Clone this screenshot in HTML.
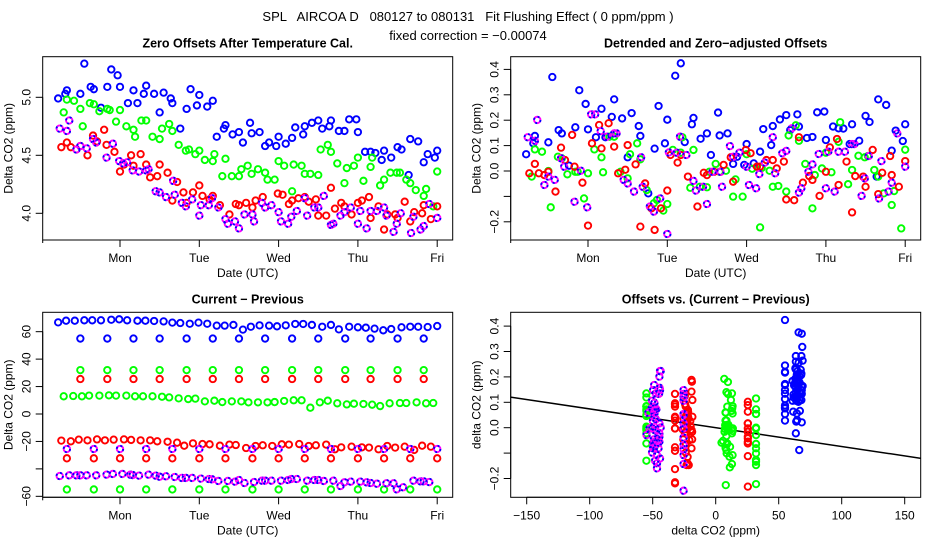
<!DOCTYPE html>
<html><head><meta charset="utf-8">
<style>
html,body{margin:0;padding:0;background:#fff;}
svg{display:block;font-family:"Liberation Sans",sans-serif;}
text{fill:#000;}
</style></head>
<body>
<svg id="chart" width="936" height="540" viewBox="0 0 936 540" xmlns="http://www.w3.org/2000/svg">
<defs>
<clipPath id="clip4"><rect x="510.7" y="312.3" width="410" height="185"/></clipPath>
</defs>
<text x="468" y="21" font-size="13" text-anchor="middle" style="white-space:pre">SPL   AIRCOA D   080127 to 080131   Fit Flushing Effect ( 0 ppm/ppm )</text>
<text x="468" y="40" font-size="13" text-anchor="middle">fixed correction = −0.00074</text>
<g id="layer"></g>
</svg>
<script>
// ---------- DATA ----------
const dayLabels = ["Mon","Tue","Wed","Thu","Fri"];
const dayTicks = [0,1,2,3,4];
const p1YTicks = [4.0,4.5,5.0];
const p1YLabels = ["4.0","4.5","5.0"];
const p2YTicks = [-0.2,-0.1,0.0,0.1,0.2,0.3,0.4];
const p2YLabels = ["-0.2","","0.0","0.1","0.2","0.3","0.4"];
const p3YTicks = [-60,-40,-20,0,20,40,60];
const p3YLabels = ["-60","","-20","0","20","40","60"];
const p4XTicks = [-150,-100,-50,0,50,100,150];
const p4XLabels = ["-150","-100","-50","0","50","100","150"];
const fitSlope = -0.00074;
const fitIntercept = 0.0;

const blueDays = [-0.78,-0.69,-0.67,-0.50,-0.45,-0.37,-0.33,-0.24,-0.16,-0.11,-0.03,0.00,0.10,0.17,0.22,0.30,0.33,0.43,0.50,0.55,0.64,0.66,0.76,0.84,0.89,0.97,1.00,1.10,1.17,1.22,1.31,1.33,1.42,1.50,1.55,1.64,1.66,1.76,1.83,1.88,1.97,2.00,2.09,2.17,2.21,2.31,2.33,2.42,2.50,2.55,2.64,2.66,2.76,2.83,2.89,2.98,3.00,3.09,3.16,3.22,3.30,3.33,3.42,3.50,3.55,3.64,3.66,3.76,3.83,3.88,3.97,4.00];
const blueZero = [4.99,5.03,5.06,5.03,5.29,5.09,5.07,4.91,5.09,5.24,5.19,5.09,4.95,5.06,4.95,5.03,5.10,5.03,4.87,5.04,4.99,4.95,4.73,4.90,5.07,4.93,5.02,4.92,4.97,4.66,4.73,4.76,4.68,4.70,4.61,4.78,4.69,4.70,4.58,4.61,4.58,4.66,4.60,4.65,4.74,4.68,4.75,4.78,4.80,4.73,4.75,4.80,4.71,4.71,4.81,4.81,4.70,4.53,4.53,4.52,4.46,4.54,4.48,4.57,4.55,4.33,4.64,4.62,4.44,4.51,4.48,4.54];
const blueDetr = [0.066,0.109,0.138,0.113,0.370,0.161,0.148,0.021,0.172,0.318,0.264,0.164,0.133,0.245,0.133,0.213,0.282,0.207,0.054,0.228,0.177,0.138,-0.088,0.088,0.256,0.109,0.202,0.375,0.424,0.114,0.184,0.209,0.127,0.148,0.063,0.230,0.140,0.148,0.028,0.056,0.024,0.106,0.030,0.076,0.165,0.102,0.177,0.203,0.220,0.161,0.223,0.175,0.130,0.134,0.231,0.234,0.122,0.175,0.168,0.167,0.106,0.184,0.119,0.217,0.193,-0.022,0.282,0.260,0.080,0.159,0.118,0.184];

const greenDays = [-0.71,-0.67,-0.58,-0.50,-0.47,-0.38,-0.33,-0.26,-0.16,-0.13,-0.05,0.00,0.08,0.17,0.19,0.27,0.33,0.41,0.50,0.53,0.62,0.66,0.74,0.83,0.87,0.95,1.00,1.07,1.17,1.19,1.29,1.33,1.41,1.50,1.53,1.61,1.66,1.74,1.83,1.86,1.95,2.00,2.07,2.17,2.19,2.29,2.33,2.40,2.50,2.53,2.62,2.66,2.74,2.83,2.86,2.95,3.00,3.07,3.16,3.18,3.28,3.33,3.41,3.49,3.53,3.61,3.66,3.73,3.83,3.86,3.95,4.00];
const greenZero = [4.87,4.98,4.97,4.90,4.75,4.95,4.94,4.88,4.90,4.89,4.79,4.89,4.75,4.72,4.66,4.80,4.80,4.66,4.64,4.73,4.77,4.71,4.59,4.54,4.55,4.51,4.54,4.46,4.45,4.51,4.32,4.47,4.32,4.32,4.38,4.41,4.34,4.38,4.35,4.29,4.29,4.45,4.41,4.19,4.42,4.41,4.34,4.34,4.33,4.55,4.59,4.53,4.43,4.26,4.39,4.41,4.48,4.28,4.40,4.48,4.24,4.29,4.35,4.35,4.35,4.29,4.26,4.20,4.15,4.21,4.06,4.36];
const greenDetr = [-0.022,0.085,0.076,0.0,-0.143,0.056,0.050,-0.013,-0.003,-0.003,-0.108,-0.009,0.085,0.054,-0.005,0.135,0.135,-0.003,-0.029,0.066,0.109,0.046,-0.075,-0.127,-0.114,-0.156,-0.130,0.083,0.072,0.133,-0.066,0.083,-0.062,-0.064,-0.003,0.028,-0.003,0.001,-0.101,-0.033,-0.101,0.066,0.009,-0.222,0.012,0.001,-0.062,-0.059,-0.081,0.140,0.180,0.119,0.028,-0.147,-0.016,0.010,0.072,-0.005,0.115,0.192,-0.052,0.004,0.060,0.054,0.059,0.004,-0.022,-0.088,-0.134,-0.079,-0.226,0.084];

const redDays = [-0.74,-0.67,-0.62,-0.55,-0.50,-0.41,-0.34,-0.29,-0.20,-0.17,-0.07,0.00,0.05,0.14,0.17,0.26,0.33,0.38,0.47,0.50,0.60,0.66,0.72,0.80,0.84,0.92,1.00,1.04,1.13,1.17,1.26,1.38,1.46,1.50,1.59,1.67,1.71,1.80,1.83,1.99,2.05,2.13,2.17,2.25,2.33,2.38,2.47,2.50,2.60,2.66,2.71,2.79,2.83,2.92,3.00,3.05,3.14,3.16,3.26,3.33,3.37,3.47,3.50,3.59,3.66,3.71,3.81,3.83,3.92,4.00];
const redZero = [4.57,4.61,4.57,4.55,4.58,4.50,4.67,4.62,4.72,4.59,4.53,4.36,4.42,4.50,4.41,4.51,4.42,4.31,4.32,4.42,4.35,4.11,4.27,4.18,4.09,4.18,4.24,4.15,4.12,4.15,4.07,3.99,4.08,4.07,4.09,4.05,4.11,4.14,4.05,4.17,4.16,4.08,4.11,4.13,4.14,4.10,4.12,3.98,3.98,4.22,4.04,4.09,4.06,3.99,4.09,4.11,4.14,3.96,4.06,3.86,3.99,3.99,3.96,4.10,3.93,4.01,4.00,4.07,3.95,4.06];
const redDetr = [-0.009,0.028,-0.009,-0.016,-0.003,-0.081,0.092,0.043,0.142,0.017,-0.046,-0.215,0.109,0.181,0.089,0.188,0.096,-0.009,0.005,0.102,0.026,-0.219,-0.049,-0.147,-0.232,-0.147,-0.077,0.063,0.033,0.063,-0.022,-0.140,-0.007,-0.016,-0.003,-0.003,0.024,0.054,-0.042,0.083,0.070,0.017,0.017,0.043,0.043,0.010,0.037,-0.112,-0.115,0.133,-0.046,-0.020,-0.035,-0.098,-0.003,0.093,0.126,-0.055,0.037,-0.163,-0.020,-0.022,-0.062,0.083,-0.091,-0.007,0.059,-0.016,-0.062,0.039];

const purpleDays = [-0.76,-0.67,-0.64,-0.55,-0.50,-0.42,-0.34,-0.30,-0.17,-0.09,-0.01,0.04,0.09,0.16,0.24,0.33,0.36,0.45,0.50,0.58,0.67,0.69,0.78,0.83,0.91,1.00,1.02,1.12,1.16,1.24,1.33,1.36,1.45,1.50,1.57,1.67,1.69,1.79,1.83,1.91,2.00,2.03,2.12,2.16,2.23,2.33,2.36,2.45,2.50,2.57,2.66,2.69,2.78,2.83,2.91,3.00,3.03,3.11,3.16,3.24,3.33,3.36,3.45,3.49,3.54,3.67,3.70,3.79,3.83,3.90,4.00];
const purpleZero = [4.73,4.71,4.80,4.55,4.58,4.56,4.64,4.61,4.48,4.60,4.45,4.43,4.44,4.37,4.36,4.37,4.38,4.19,4.18,4.14,4.28,4.16,4.09,4.06,4.12,3.98,4.07,4.07,4.13,4.05,3.95,3.91,3.93,3.87,3.99,3.99,3.93,4.09,4.05,4.07,4.01,3.93,3.91,3.97,4.02,4.13,3.98,4.05,4.05,4.15,3.90,3.91,3.98,4.01,4.05,3.91,4.02,3.87,4.02,4.02,4.05,3.98,3.84,3.91,4.00,3.83,3.97,3.86,3.89,4.08,3.96];
const purpleDetr = [0.133,0.119,0.201,-0.055,-0.022,-0.035,0.050,0.017,-0.121,0.001,-0.143,0.223,0.223,0.157,0.135,0.148,0.148,-0.035,-0.049,-0.081,0.054,-0.062,-0.140,-0.160,-0.108,-0.248,0.073,0.072,0.135,0.063,-0.039,-0.077,-0.062,-0.130,-0.003,-0.003,-0.062,0.098,0.056,0.072,0.017,-0.055,-0.068,-0.012,0.033,0.133,-0.009,0.070,0.079,0.168,-0.085,-0.068,-0.003,0.026,0.067,-0.068,0.076,-0.081,0.076,0.076,0.106,0.106,-0.098,-0.029,0.059,-0.108,0.039,-0.081,-0.046,0.148,0.017];

// Current - Previous rows
const blueMainDays = [-0.78,-0.68,-0.57,-0.45,-0.35,-0.24,-0.11,-0.01,0.09,0.22,0.32,0.43,0.55,0.66,0.76,0.88,0.99,1.10,1.22,1.32,1.43,1.55,1.65,1.76,1.88,1.98,2.09,2.21,2.31,2.42,2.55,2.66,2.76,2.89,3.00,3.10,3.21,3.32,3.42,3.55,3.66,3.76,3.88,4.00];
const blueMainDiff = [66.8,68.0,68.0,68.3,68.3,68.3,68.7,69.0,68.3,68.0,68.0,67.8,67.5,66.6,66.3,65.8,66.6,65.8,64.4,64.4,64.9,61.5,63.6,64.6,64.4,63.9,64.6,65.6,65.6,64.9,63.6,64.9,61.7,63.6,63.2,62.9,62.2,61.0,61.9,63.2,63.6,63.6,63.4,64.1];
const periodADays = [-0.50,-0.16,0.17,0.50,0.84,1.17,1.50,1.83,2.17,2.50,2.84,3.16,3.50,3.83];
const blueHighDiff = [55,55,55,55,55,55,55,55,55,55,55,55,55,55];
const greenHighDiff = [32,32,32,32,32,32,32,32,32,32,32,32,32,32];
const redHighDiff = [25.5,25.5,25.5,25.5,25.5,25.5,25.5,25.5,25.5,25.5,25.5,25.5,25.5,25.5];
const periodBDays = [-0.67,-0.33,0.00,0.33,0.66,1.00,1.33,1.67,2.00,2.33,2.66,3.00,3.33,3.66,4.00];
const greenLowDiff = [-55,-55,-55,-55,-55,-55,-55,-55,-55,-55,-55,-55,-55,-55,-55];
const redLowDiff = [-32.3,-32.3,-32.3,-32.3,-32.3,-32.3,-32.3,-32.3,-32.3,-32.3,-32.3,-32.3,-32.3,-32.3,-32.3];
const purpleMidDiff = [-25.5,-25.5,-25.5,-25.5,-25.5,-25.5,-25.5,-25.5,-25.5,-25.5,-25.5,-25.5,-25.5,-25.5,-25.5];
const greenMainDays = [-0.71,-0.59,-0.48,-0.39,-0.26,-0.14,-0.05,0.08,0.19,0.29,0.41,0.53,0.62,0.74,0.86,0.95,1.07,1.19,1.29,1.41,1.53,1.62,1.74,1.86,1.95,2.07,2.19,2.29,2.40,2.52,2.62,2.74,2.86,2.95,3.07,3.18,3.28,3.40,3.53,3.61,3.74,3.86,3.95];
const greenMainDiff = [12.9,13.1,12.9,13.4,13.4,13.6,13.4,13.4,12.9,12.9,12.9,12.6,12.1,11.4,10.9,11.2,9.2,9.7,8.7,9.2,9.2,8.5,8.5,8.5,8.7,9.5,10.0,10.0,4.6,8.5,9.7,7.8,7.0,7.5,7.3,6.8,5.8,7.8,8.0,8.0,8.5,7.8,8.0];
const redMainDays = [-0.74,-0.62,-0.52,-0.41,-0.29,-0.19,-0.08,0.05,0.14,0.26,0.38,0.47,0.60,0.72,0.81,0.92,1.04,1.13,1.26,1.38,1.46,1.59,1.71,1.80,1.92,2.04,2.13,2.26,2.38,2.47,2.60,2.71,2.79,2.92,3.05,3.14,3.26,3.37,3.47,3.59,3.71,3.81,3.92];
const redMainDiff = [-19.4,-19.9,-18.7,-19.2,-18.5,-19.2,-18.7,-18.5,-18.9,-19.2,-19.2,-19.9,-20.2,-20.9,-23.1,-21.4,-21.9,-22.1,-23.1,-22.3,-22.6,-24.8,-23.3,-22.8,-23.3,-22.1,-22.3,-21.9,-23.3,-22.8,-22.3,-25.7,-24.3,-23.8,-24.3,-24.5,-25.7,-23.3,-24.5,-23.8,-26.2,-23.1,-23.8];
const purpleMainDays = [-0.76,-0.64,-0.55,-0.50,-0.42,-0.30,-0.17,-0.09,0.03,0.13,0.16,0.24,0.36,0.45,0.50,0.58,0.69,0.78,0.83,0.91,1.02,1.12,1.16,1.24,1.36,1.45,1.50,1.57,1.69,1.79,1.83,1.91,2.03,2.12,2.16,2.23,2.36,2.45,2.50,2.57,2.69,2.78,2.83,2.91,3.03,3.11,3.16,3.24,3.36,3.45,3.49,3.57,3.70,3.79,3.83,3.90];
const purpleMainDiff = [-45.2,-44.7,-44.7,-44.7,-44.7,-44.7,-44.2,-43.7,-43.7,-44.2,-44.5,-44.9,-44.2,-44.9,-45.7,-45.4,-45.9,-46.6,-46.6,-46.6,-47.1,-47.4,-47.6,-48.8,-48.8,-49.3,-48.1,-50.3,-49.6,-48.6,-48.6,-48.6,-48.6,-48.1,-47.4,-47.4,-48.6,-48.1,-48.1,-48.8,-48.6,-52.5,-49.8,-49.3,-49.3,-49.8,-50.3,-50.8,-50.5,-50.5,-54.9,-53.4,-48.6,-49.1,-49.1,-49.6];

// ---------- RENDER ----------
const NS = "http://www.w3.org/2000/svg";
const layer = document.getElementById("layer");
function mk(tag, attrs, parent) {
  const e = document.createElementNS(NS, tag);
  for (const k in attrs) e.setAttribute(k, attrs[k]);
  (parent || layer).appendChild(e);
  return e;
}
const COLORS = {blue:"#0000ff", green:"#00ff00", red:"#ff0000", purple:"#ff00ff"};

function point(g, cx, cy, color) {
  if (color === "purple") {
    const c = mk("circle", {cx:cx, cy:cy, r:3.2, fill:"none", stroke:"#ff00ff", "stroke-width":1.9}, g);
    
    
    const d = mk("circle", {cx:cx, cy:cy, r:3.2, fill:"none", stroke:"#0000ff", "stroke-width":1.9, "stroke-dasharray":"2 3"}, g);
    
    
  } else {
    const c = mk("circle", {cx:cx, cy:cy, r:3.2, fill:"none", stroke:COLORS[color], "stroke-width":1.9}, g);
    
    
  }
}

function panel(p) {
  const g = mk("g", {});
  
  
  const t = mk("text", {x:(p.x0+p.x1)/2, y:p.y0-9, "font-size":12.5, "font-weight":"bold", "text-anchor":"middle"}, g);
  t.textContent = p.title;
  
  
  const box = mk("rect", {x:p.x0, y:p.y0, width:p.x1-p.x0, height:p.y1-p.y0, fill:"none", stroke:"#000", "stroke-width":1}, g);
  
  
  const xa = mk("g", {}, g);
  
  
  const xs = p.xTicks.map(p.sx);
  mk("line", {x1:p.xAxisFromLeft ? p.x0 : xs[0], x2:xs[xs.length-1], y1:p.y1, y2:p.y1, stroke:"#000"}, xa);
  p.xTicks.forEach((v,i) => {
    const X = p.sx(v);
    mk("line", {x1:X, x2:X, y1:p.y1, y2:p.y1+7, stroke:"#000"}, xa);
    const lt = mk("text", {x:X, y:p.y1+22, "font-size":12, "text-anchor":"middle"}, xa);
    lt.textContent = p.xLabels[i];
    
    
  });
  if (p.xAxisFromLeft) mk("line", {x1:p.x0, x2:p.x0, y1:p.y1, y2:p.y1+3, stroke:"#000"}, xa);
  const xl = mk("text", {x:(p.x0+p.x1)/2, y:p.y1+37, "font-size":12, "text-anchor":"middle"}, g);
  xl.textContent = p.xTitle;
  
  
  const ya = mk("g", {}, g);
  
  
  mk("line", {x1:p.x0, x2:p.x0, y1:p.sy(p.yTicks[0]), y2:p.sy(p.yTicks[p.yTicks.length-1]), stroke:"#000"}, ya);
  p.yTicks.forEach((v,i) => {
    const Y = p.sy(v);
    mk("line", {x1:p.x0-7, x2:p.x0, y1:Y, y2:Y, stroke:"#000"}, ya);
    if (p.yLabels[i]) {
      const lt = mk("text", {x:0, y:0, "font-size":12, "text-anchor":"middle", transform:`translate(${p.x0-12},${Y}) rotate(-90)`}, ya);
      lt.textContent = p.yLabels[i];
      
      
    }
  });
  const yl = mk("text", {x:0, y:0, "font-size":12, "text-anchor":"middle", transform:`translate(${p.x0-30},${(p.y0+p.y1)/2}) rotate(-90)`}, g);
  yl.textContent = p.yTitle;
  
  
  return g;
}

function series(g, name, xs, ys, color, sx, sy) {
  const sg = mk("g", {}, g);
  
  
  const n = Math.min(xs.length, ys.length);
  for (let i=0;i<n;i++) point(sg, sx(xs[i]), sy(ys[i]), color);
}

const p1 = {name:"zero-offsets-panel", title:"Zero Offsets After Temperature Cal.", x0:42.7, x1:452.7, y0:56.7, y1:240,
  sx:d=>120+d*79.3, sy:v=>97.3+(5-v)*116, xTicks:dayTicks, xLabels:dayLabels, xAxisFromLeft:true,
  yTicks:p1YTicks, yLabels:p1YLabels, xTitle:"Date (UTC)", yTitle:"Delta CO2 (ppm)"};
const g1 = panel(p1);
series(g1,"series-blue",blueDays,blueZero,"blue",p1.sx,p1.sy);
series(g1,"series-green",greenDays,greenZero,"green",p1.sx,p1.sy);
series(g1,"series-red",redDays,redZero,"red",p1.sx,p1.sy);
series(g1,"series-purple",purpleDays,purpleZero,"purple",p1.sx,p1.sy);

const p2 = {name:"detrended-offsets-panel", title:"Detrended and Zero\u2212adjusted Offsets", x0:510.7, x1:920.7, y0:56.7, y1:240,
  sx:d=>588+d*79.3, sy:v=>171-v*254, xTicks:dayTicks, xLabels:dayLabels, xAxisFromLeft:true,
  yTicks:p2YTicks, yLabels:p2YLabels.map(s=>s.replace("-","\u2212")), xTitle:"Date (UTC)", yTitle:"Delta CO2 (ppm)"};
const g2 = panel(p2);
series(g2,"series-blue",blueDays,blueDetr,"blue",p2.sx,p2.sy);
series(g2,"series-green",greenDays,greenDetr,"green",p2.sx,p2.sy);
series(g2,"series-red",redDays,redDetr,"red",p2.sx,p2.sy);
series(g2,"series-purple",purpleDays,purpleDetr,"purple",p2.sx,p2.sy);

const p3 = {name:"current-previous-panel", title:"Current \u2212 Previous", x0:42.7, x1:452.7, y0:312.3, y1:497.3,
  sx:d=>120+d*79.3, sy:v=>414-v*1.372, xTicks:dayTicks, xLabels:dayLabels, xAxisFromLeft:true,
  yTicks:p3YTicks, yLabels:p3YLabels.map(s=>s.replace("-","\u2212")), xTitle:"Date (UTC)", yTitle:"Delta CO2 (ppm)"};
const g3 = panel(p3);
const rows = {
  blue:[[blueMainDays,blueMainDiff],[periodADays,blueHighDiff]],
  green:[[greenMainDays,greenMainDiff],[periodADays,greenHighDiff],[periodBDays,greenLowDiff]],
  red:[[redMainDays,redMainDiff],[periodADays,redHighDiff],[periodBDays,redLowDiff]],
  purple:[[purpleMainDays,purpleMainDiff],[periodBDays,purpleMidDiff]]
};
for (const c in rows) rows[c].forEach(r => series(g3,"series-"+c,r[0],r[1],c,p3.sx,p3.sy));

const p4 = {name:"offsets-vs-diff-panel", title:"Offsets vs. (Current \u2212 Previous)", x0:510.7, x1:920.7, y0:312.3, y1:497.3,
  sx:v=>715.7+v*1.26, sy:v=>427.7-v*254, xTicks:p4XTicks, xLabels:p4XLabels.map(s=>s.replace("-","\u2212")), xAxisFromLeft:false,
  yTicks:p2YTicks, yLabels:p2YLabels.map(s=>s.replace("-","\u2212")), xTitle:"delta CO2 (ppm)", yTitle:"delta CO2 (ppm)"};
const g4 = panel(p4);
const fitG = mk("g", {"clip-path":"url(#clip4)"}, g4);


const fl = mk("line", {x1:p4.sx(-200), y1:p4.sy(fitIntercept+fitSlope*-200), x2:p4.sx(200), y2:p4.sy(fitIntercept+fitSlope*200), stroke:"#000", "stroke-width":1.5}, fitG);


const detr = {blue:[blueDays,blueDetr], green:[greenDays,greenDetr], red:[redDays,redDetr], purple:[purpleDays,purpleDetr]};
for (const c in detr) {
  const [ds, vs] = detr[c];
  const dx = [];
  ds.forEach(d => {
    let best = null, bd = 1e9;
    rows[c].forEach(r => r[0].forEach((rd,i) => { const dd = Math.abs(rd-d); if (dd < bd) { bd = dd; best = r[1][i]; } }));
    dx.push(best);
  });
  series(g4,"series-"+c,dx,vs,c,p4.sx,p4.sy);
}
</script>
</body></html>
